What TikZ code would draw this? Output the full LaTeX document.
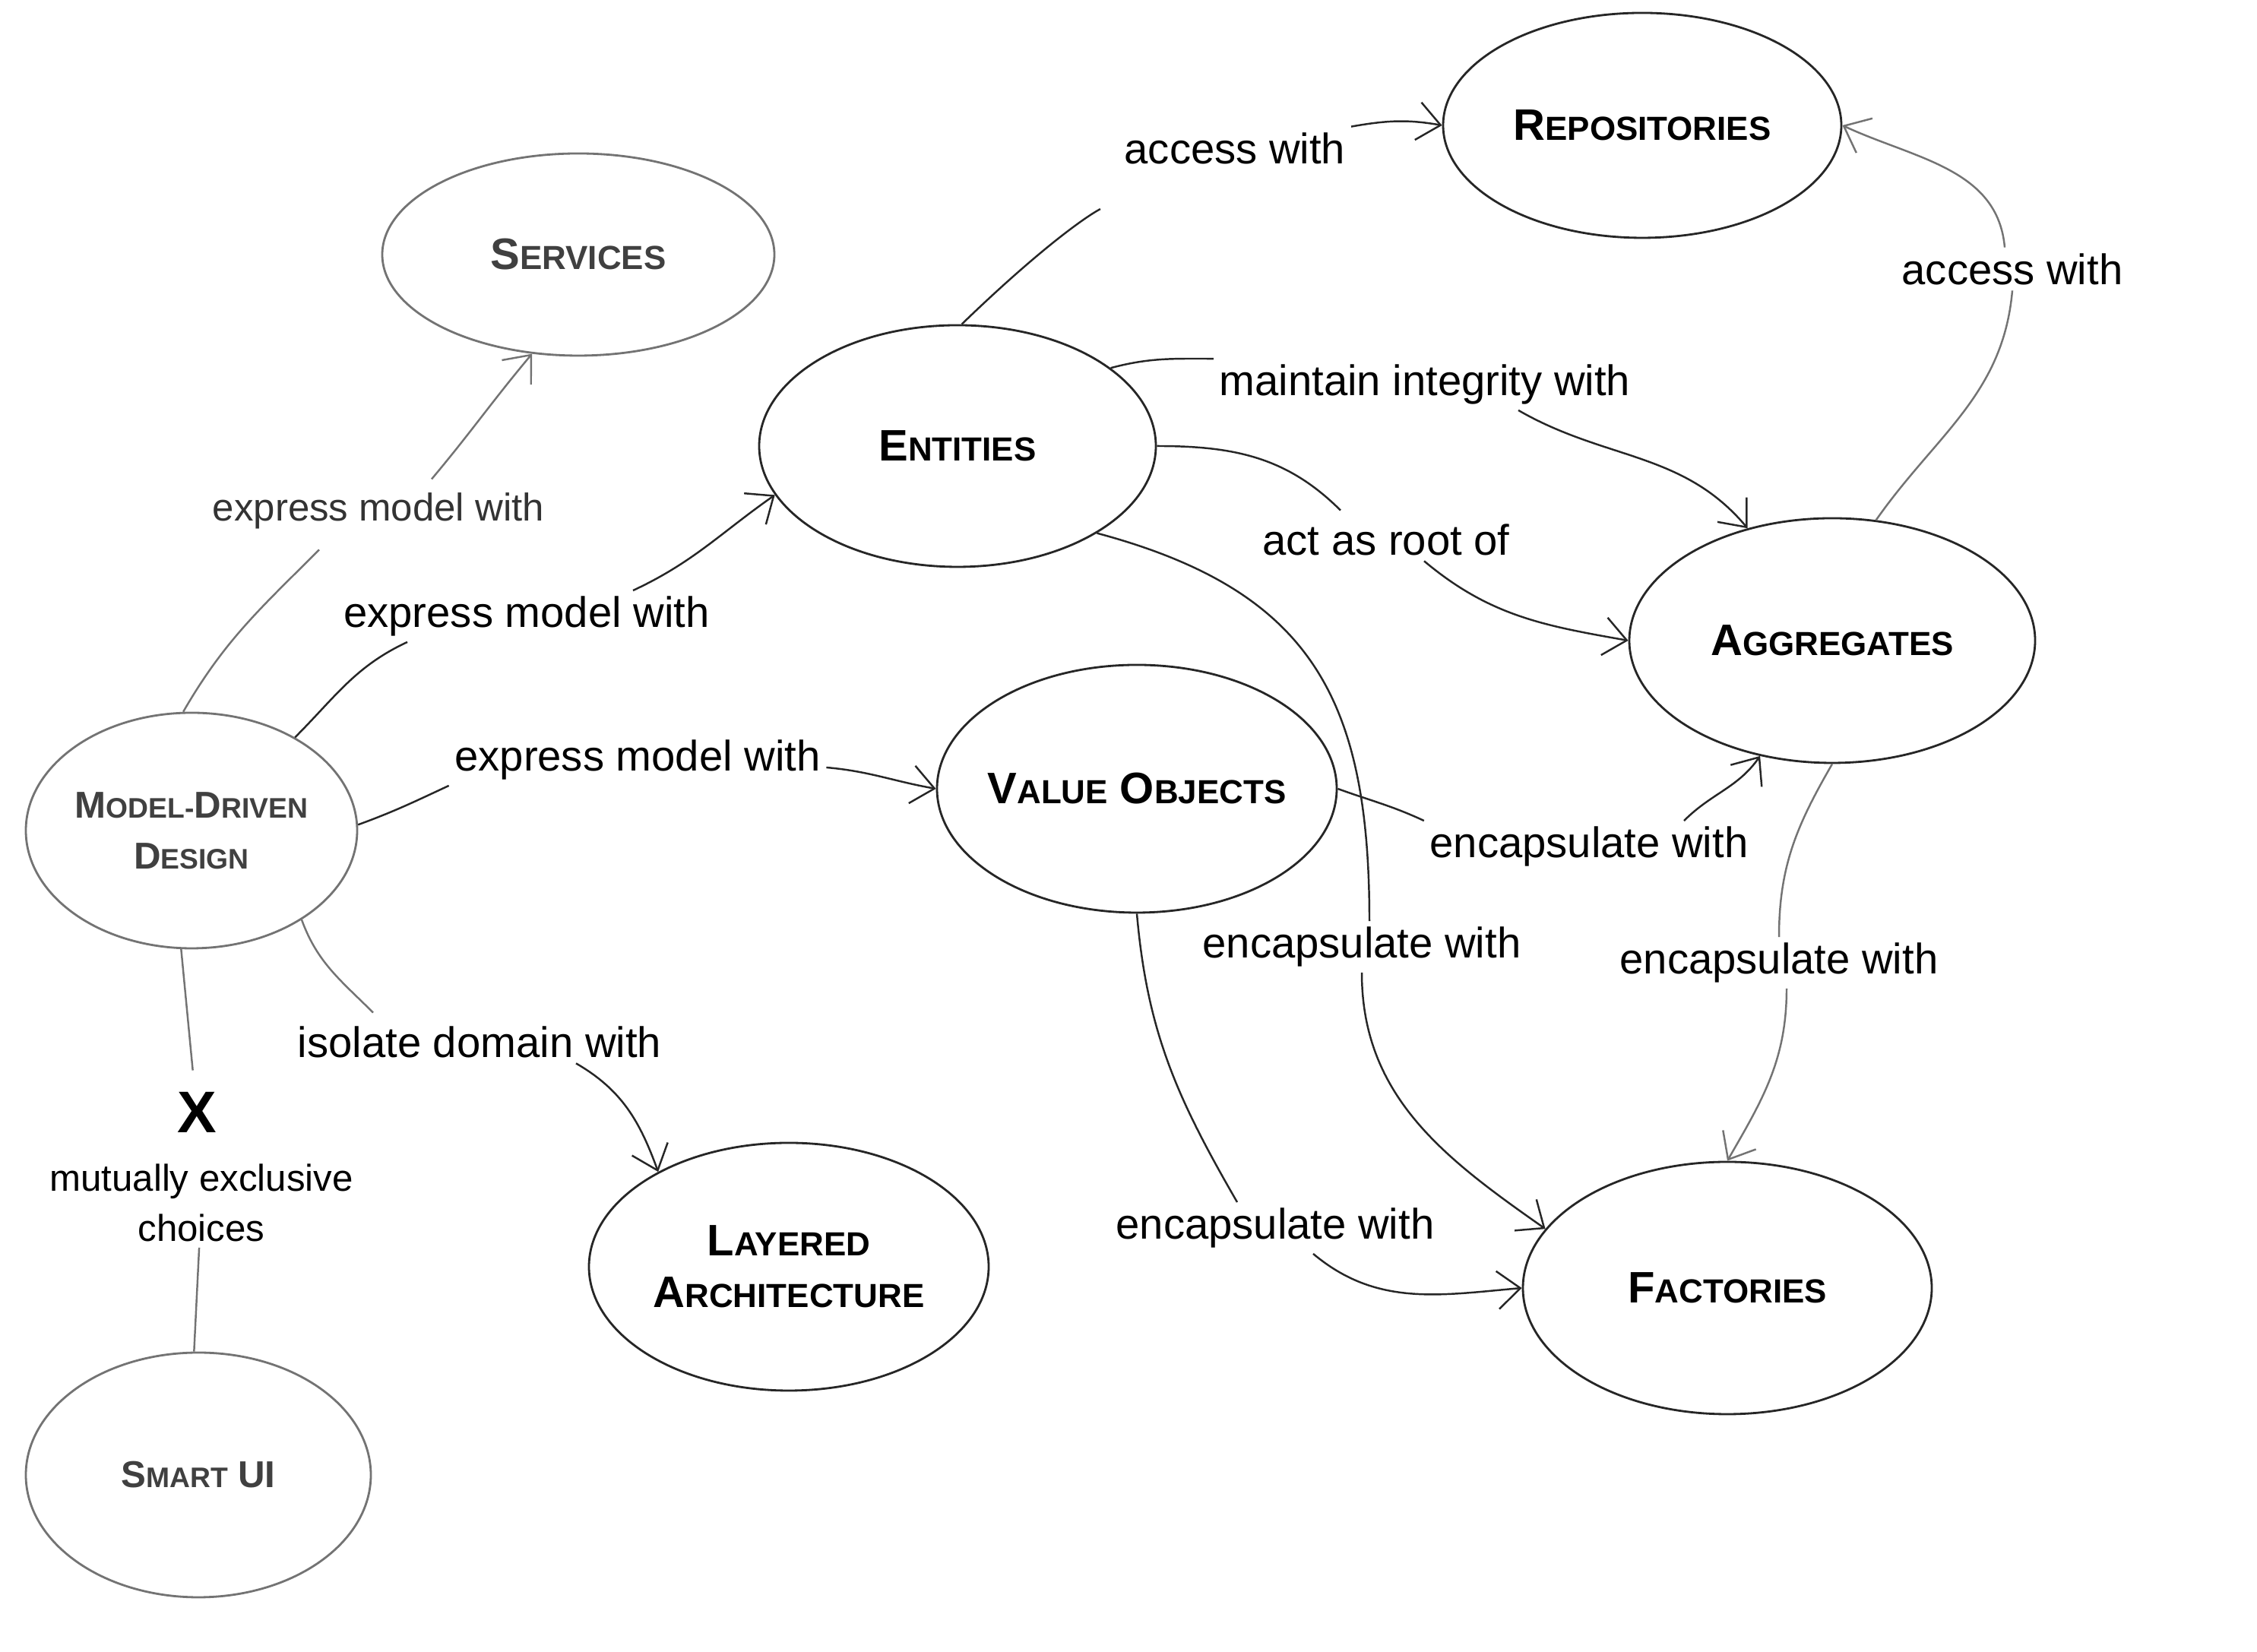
\documentclass[tikz,border=0pt]{standalone}
\usepackage{fontspec}
\setmainfont{Liberation Sans}
\usetikzlibrary{shapes.geometric,arrows.meta}
\newcommand{\smc}[1]{{\fontsize{12.5}{15}\selectfont #1}}
\newcommand{\smcs}[1]{{\fontsize{10.6}{13}\selectfont #1}}

\begin{document}
\begin{tikzpicture}[
	concept/.style={ellipse,draw=black!85,line width=0.8pt,inner sep=0pt,align=center,font=\fontsize{16.5}{19.5}\selectfont\bfseries},
	faded/.style={draw=black!55,text=black!75},
	lbl/.style={inner sep=2pt,font=\fontsize{16}{19}\selectfont},
	link/.style={line width=0.7pt,black!85},
	pale/.style={black!55},
	>={Straight Barb[length=3mm,width=5mm]}
]
	\useasboundingbox (0,0) rectangle (29.7,21.74);
	\node[concept,faded,minimum width=5.16cm,minimum height=2.66cm] (svc) at (7.61,18.39) {S\smc{ERVICES}};
	\node[concept,minimum width=5.24cm,minimum height=2.96cm] (repo) at (21.61,20.09) {R\smc{EPOSITORIES}};
	\node[concept,minimum width=5.22cm,minimum height=3.18cm] (ent) at (12.60,15.87) {E\smc{NTITIES}};
	\node[concept,minimum width=5.34cm,minimum height=3.22cm] (agg) at (24.11,13.31) {A\smc{GGREGATES}};
	\node[concept,minimum width=5.26cm,minimum height=3.26cm,inner xsep=-1.5mm] (val) at (14.96,11.36) {V\smc{ALUE} O\smc{BJECTS}};
	\node[concept,faded,minimum width=4.36cm,minimum height=3.10cm,font=\fontsize{14}{19}\selectfont\bfseries] (mdd) at (2.52,10.81) {M\smcs{ODEL-}D\smcs{RIVEN}\\D\smcs{ESIGN}};
	\node[concept,minimum width=5.26cm,minimum height=3.26cm] (lay) at (10.38,5.07) {L\smc{AYERED}\\A\smc{RCHITECTURE}};
	\node[concept,minimum width=5.38cm,minimum height=3.32cm] (fac) at (22.73,4.79) {F\smc{ACTORIES}};
	\node[concept,faded,minimum width=4.54cm,minimum height=3.22cm,font=\fontsize{14}{19}\selectfont\bfseries] (sui) at (2.61,2.33) {S\smcs{MART} UI};

	\node[lbl,font=\fontsize{14.5}{17}\selectfont,text=black!80] (l_svc) at (4.98,15.02) {express model with};
	\node[lbl] (l_ent) at (6.93,13.63) {express model with};
	\node[lbl] (l_val) at (8.39,11.74) {express model with};
	\node[lbl] (l_lay) at (6.31,8.03) {isolate domain with};
	\node[lbl] (l_r1) at (16.25,19.79) {access with};
	\node[lbl] (l_r2) at (26.48,18.20) {access with};
	\node[lbl] (l_integ) at (18.75,16.68) {maintain integrity with};
	\node[lbl] (l_root) at (18.24,14.64) {act as root of};
	\node[lbl] (l_vagg) at (20.91,10.60) {encapsulate with};
	\node[lbl] (l_efac) at (17.92,9.28) {encapsulate with};
	\node[lbl] (l_afac) at (23.41,9.07) {encapsulate with};
	\node[lbl] (l_vfac) at (16.78,5.58) {encapsulate with};
	\node[font=\fontsize{22}{24}\selectfont\bfseries,inner sep=8pt] (x) at (2.59,7.10) {X};
	\node[lbl,font=\fontsize{14}{18.8}\selectfont,align=center] (choices) at (2.65,5.91) {mutually exclusive\\choices};

	\draw[link,pale] (mdd.94) to[out=60,in=225] ([xshift=-7.8mm,yshift=-2mm]l_svc.south);
	\draw[link,pale,->] ([xshift=7mm,yshift=1mm]l_svc.north) to[out=50,in=230] (svc.245);
	\draw[link] (mdd.42) to[out=45,in=205] ([xshift=-15.7mm]l_ent.south);
	\draw[link,->] ([xshift=14mm]l_ent.north) to[out=25,in=215] (ent.195);
	\draw[link] (mdd.2) to[out=20,in=205] (l_val.south west);
	\draw[link,->] ([yshift=-1mm]l_val.east) to[out=-5,in=170] (val.west);
	\draw[link,pale] (mdd.-39) to[out=-70,in=135] ([xshift=-14mm,yshift=1mm]l_lay.north);
	\draw[link,->] ([xshift=12.7mm]l_lay.south) to[out=-30,in=110] (lay.144);
	\draw[link,pale] (mdd.-95) -- (x);
	\draw[link,pale] (choices) -- (sui.92);

	\draw[link,shorten >=11mm] (ent.88) to[bend left=8] ([xshift=-8mm]l_r1.south);
	\draw[link,->] (l_r1.north east) to[out=10,in=170] (repo.west);
	\draw[link] (ent.27) to[out=15,in=180] (l_integ.north west);
	\draw[link,->] ([xshift=12.3mm]l_integ.south) to[out=-30,in=130] (agg.127);
	\draw[link] (ent.east) to[out=0,in=135] ([xshift=-6mm,yshift=1mm]l_root.north);
	\draw[link,->] ([xshift=5mm]l_root.south) to[out=-40,in=170] (agg.west);
	\draw[link] (ent.-32) to[out=-15,in=90,looseness=1.2] ([xshift=1mm]l_efac.north);
	\draw[link,->] (l_efac.south) to[out=-90,in=145] (fac.162);

	\draw[link] (val.east) to[out=-20,in=155] (l_vagg.north west);
	\draw[link,->] ([xshift=12.5mm]l_vagg.north) to[out=45,in=235] (agg.238);
	\draw[link] (val.south) to[out=-85,in=120] ([xshift=-5mm]l_vfac.north);
	\draw[link,->] ([xshift=5mm]l_vfac.south) to[out=-40,in=185] (fac.west);
	\draw[link,pale] (agg.south) to[out=-120,in=90] (l_afac.north);
	\draw[link,pale,->] ([xshift=1mm]l_afac.south) to[out=-90,in=60] (fac.north);
	\draw[link,pale] (agg.70) to[out=55,in=-95] (l_r2.south);
	\draw[link,pale,->] ([xshift=-1mm]l_r2.north) to[out=95,in=-25] (repo.east);
\end{tikzpicture}
\end{document}
